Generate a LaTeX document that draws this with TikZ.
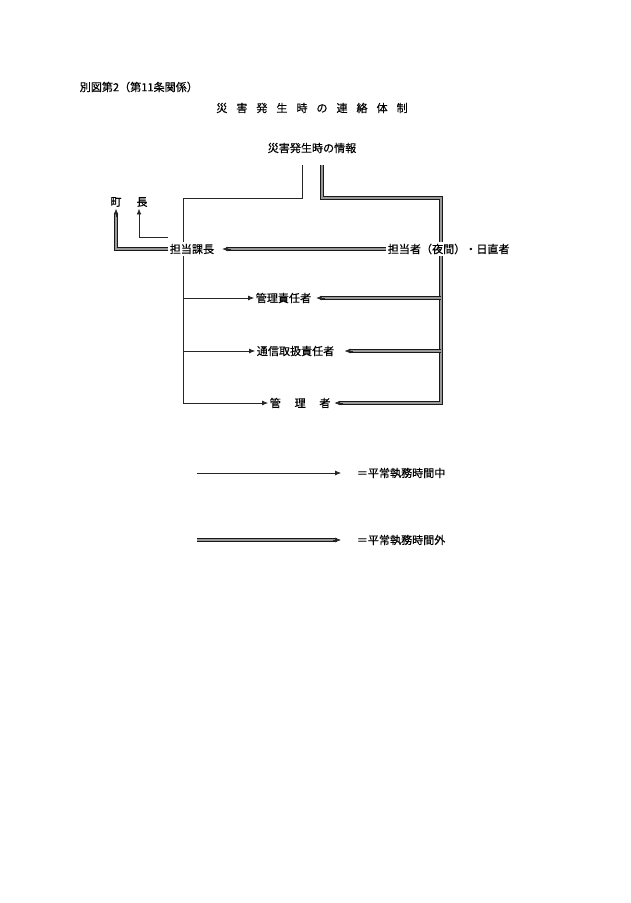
\documentclass[tikz,border=0pt]{standalone}
\usepackage{fontspec}
\setmainfont{Noto Sans CJK JP}[FakeBold=0.4]
\usetikzlibrary{arrows.meta}

\begin{document}
\begin{tikzpicture}[x=0.3333mm, y=-0.3333mm,
  every node/.style={inner sep=1.5pt, font=\fontsize{10.5}{12}\selectfont},
  thinline/.style={line width=0.6pt, draw=black!85},
  dblline/.style={double=black!40, double distance=1.5pt, line width=0.8pt, draw=black!90},
  dblbody/.style={dblline, shorten >=4pt},
  tip/.style={-{Latex[length=5.5pt,width=4.5pt]}}]
   \useasboundingbox (0,0) rectangle (630,903);
   \node[anchor=west] (head) at (78,87) {別図第2（第11条関係）};
   \node (title) at (312,108) {\spaceskip=8.5pt 災 害 発 生 時 の 連 絡 体 制};
   \node (info) at (312,148) {災害発生時の情報};
   \node (machi) at (116,202) {町};
   \node (cho) at (142,202) {長};
   \node[anchor=west] (kacho) at (168,249) {担当課長};
   \node[anchor=west] (tanto) at (386,249) {担当者（夜間）・日直者};
   \node[anchor=west] (sekinin) at (254,298) {管理責任者};
   \node[anchor=west] (tsushin) at (255,351) {通信取扱責任者};
   \node[anchor=west] (kanrisha) at (268,403) {\spaceskip=13pt 管 理 者};
   \node[anchor=west] (heijo) at (355,473) {＝平常執務時間中};
   \node[anchor=west] (jikangai) at (355,540) {＝平常執務時間外};
   \coordinate (s0) at (302,165);
   \coordinate (d0) at (322,165);
   \coordinate (sL) at (183,198);
   \coordinate (dR) at (441,198);
   % single line
   \draw[thinline] (s0) |- (sL) -- (sL |- kacho.north);
   \draw[thinline,tip] (sL |- kacho.south) |- (kanrisha.west);
   \draw[thinline,tip] (sL |- sekinin) -- (sekinin.west);
   \draw[thinline,tip] (sL |- tsushin) -- (tsushin.west);
   \draw[thinline,tip] ([shift={(0,-12)}]kacho.west) -| ([shift={(-3,0)}]cho.south);
   % double line
   \coordinate (kEnd) at ([xshift=2pt]kanrisha.east);
   \coordinate (sEnd) at ([xshift=3pt]sekinin.east);
   \coordinate (tEnd) at ([xshift=8pt]tsushin.east);
   \coordinate (cEnd) at ([xshift=6pt]kacho.east);
   \draw[dblline] (d0) |- (dR) -- (dR |- tanto.north);
   \draw[dblbody] (dR |- tanto.south) |- (kEnd);
   \draw[thinline,tip] ([xshift=8pt]kEnd) -- (kEnd);
   \draw[dblbody] (dR |- sekinin) -- (sEnd);
   \draw[thinline,tip] ([xshift=8pt]sEnd) -- (sEnd);
   \draw[dblbody] (dR |- tsushin) -- (tEnd);
   \draw[thinline,tip] ([xshift=8pt]tEnd) -- (tEnd);
   \draw[dblbody] (tanto.west) -- (cEnd);
   \draw[thinline,tip] ([xshift=8pt]cEnd) -- (cEnd);
   \draw[dblbody] (kacho.west) -| (machi.south);
   \draw[thinline,tip] ([yshift=-8pt]machi.south) -- (machi.south);
   % legend
   \coordinate (a1) at (197,473);
   \coordinate (a2) at (341,473);
   \coordinate (b1) at (197,540);
   \coordinate (b2) at (341,540);
   \draw[thinline,tip] (a1) -- (a2);
   \draw[dblbody] (b1) -- (b2);
   \draw[thinline,tip] ([xshift=-8pt]b2) -- (b2);
\end{tikzpicture}
\end{document}
